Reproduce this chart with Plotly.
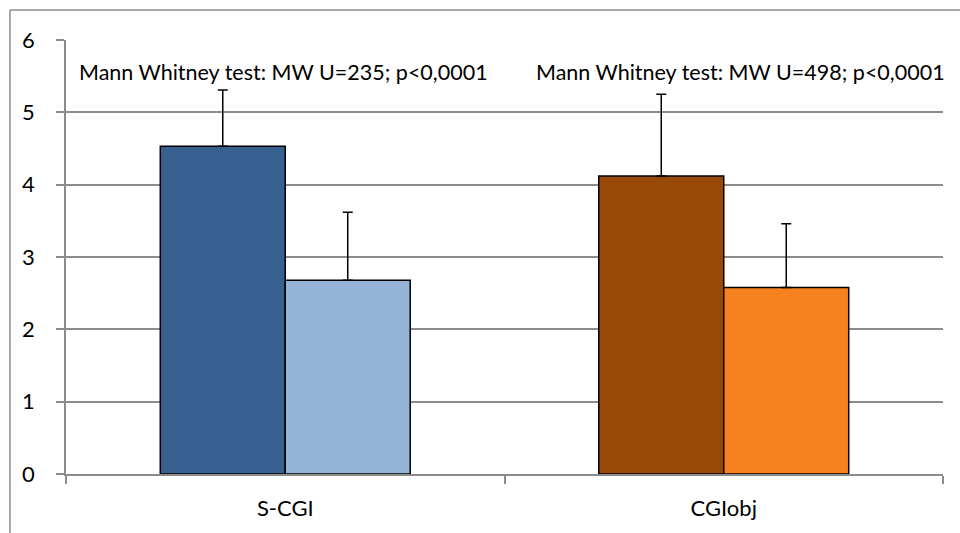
import plotly.graph_objects as go

categories = ["S-CGI", "CGIobj"]
series1_values = [4.53, 4.12]
series1_err = [0.78, 1.13]
series1_colors = ["#36608F", "#984807"]
series2_values = [2.68, 2.58]
series2_err = [0.94, 0.88]
series2_colors = ["#95B3D7", "#F6821F"]
y_ticks = [0, 1, 2, 3, 4, 5, 6]
annotations_text = ["Mann Whitney test: MW U=235; p<0,0001", "Mann Whitney test: MW U=498; p<0,0001"]

FONT = "Lato"
fig = go.Figure()
for vals, errs, cols in [(series1_values, series1_err, series1_colors),
                         (series2_values, series2_err, series2_colors)]:
    fig.add_trace(go.Bar(
        x=categories, y=vals,
        marker=dict(color=cols, line=dict(color="black", width=1.5)),
        error_y=dict(type="data", array=errs, arrayminus=[0] * len(errs), symmetric=False,
                     color="black", thickness=1.5, width=5),
        showlegend=False,
    ))

fig.update_layout(
    barmode="group", bargap=0.43, bargroupgap=0,
    width=960, height=533,
    margin=dict(l=66, r=17, t=40, b=59, autoexpand=False),
    plot_bgcolor="white", paper_bgcolor="white",
    font=dict(family=FONT, size=21, color="black"),
)
fig.update_xaxes(
    range=[-0.5, 1.5],
    showline=True, linecolor="#8c8c8c", linewidth=1.5, automargin=False,
    ticks="outside", tickson="boundaries", ticklen=8, tickcolor="#8c8c8c", tickwidth=1.5,
    tickfont=dict(family=FONT, size=22), showgrid=False, ticklabelstandoff=14,
)
fig.update_yaxes(
    range=[0, 6], tickvals=y_ticks, showline=True, linecolor="#8c8c8c", linewidth=1.5,
    ticks="outside", ticklen=8, tickcolor="#8c8c8c", tickwidth=1.5, automargin=False,
    showgrid=True, gridcolor="#8c8c8c", gridwidth=1.5, zeroline=False,
    tickfont=dict(family=FONT, size=22), ticklabelstandoff=17,
)
for i, txt in enumerate(annotations_text):
    fig.add_annotation(x=categories[i], y=5.56, text=txt, showarrow=False,
                       xshift=(-2 if i == 0 else 17), font=dict(family=FONT, size=21.5))

# outer chart border (left and top)
fig.add_shape(type="line", xref="paper", yref="paper", x0=-0.0639, x1=-0.0639, y0=-0.2, y1=1.069,
              line=dict(color="#8c8c8c", width=1.5))
fig.add_shape(type="line", xref="paper", yref="paper", x0=-0.0639, x1=1.1, y0=1.069, y1=1.069,
              line=dict(color="#8c8c8c", width=1.5))

fig.write_html("out.html")
